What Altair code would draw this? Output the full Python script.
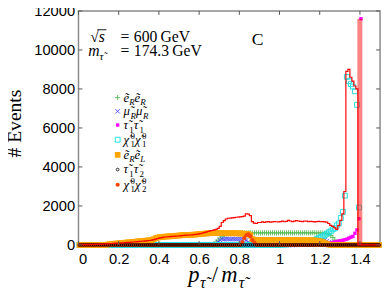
import altair as alt
import pandas as pd

W, H = 308, 239
SERIF = "Liberation Serif"
SANS = "Liberation Sans"

# ---------------- data (bins of width 0.01 in p/m) ----------------
edges = [round(0.01 * i, 2) for i in range(151)]
centers = [round(0.005 + 0.01 * i, 3) for i in range(150)]

total = [
    10, 10, 15, 15, 20, 20, 25, 25, 30, 35,
    40, 45, 50, 55, 60, 70, 75, 80, 90, 95,
    100, 110, 115, 120, 130, 135, 145, 150, 160, 170,
    180, 190, 200, 210, 220, 230, 250, 270, 300, 330,
    360, 380, 400, 410, 420, 430, 440, 440, 450, 460,
    470, 480, 490, 500, 500, 510, 520, 530, 540, 560,
    580, 600, 630, 660, 690, 720, 740, 770, 800, 850,
    950, 1150, 1250, 1330, 1370, 1380, 1390, 1400, 1420, 1430,
    1440, 1450, 1480, 1600, 1580, 1500, 1200, 1120, 1100, 1150,
    1150, 1180, 1160, 1180, 1200, 1170, 1180, 1200, 1190, 1180,
    1200, 1220, 1190, 1210, 1260, 1230, 1200, 1220, 1250, 1230,
    1210, 1200, 1230, 1220, 1190, 1210, 1200, 1180, 1200, 1210,
    1190, 1200, 1180, 1170, 1100, 1000, 950, 880, 800, 1000,
    1260, 1590, 2740, 8900, 9000, 8600, 8400, 8150, 8000, 0,
    0, 0, 0, 0, 0, 0, 0, 0, 0, 0,
]

eReR = [
    0, 0, 0, 0, 0, 0, 0, 0, 0, 0,
    0, 0, 0, 0, 0, 0, 0, 0, 0, 0,
    0, 0, 0, 0, 0, 0, 0, 0, 0, 0,
    0, 0, 0, 0, 0, 0, 0, 0, 0, 0,
    0, 0, 0, 0, 0, 0, 0, 0, 0, 0,
    0, 0, 0, 0, 0, 0, 0, 0, 0, 0,
    0, 0, 0, 0, 0, 0, 0, 50, 150, 250,
    350, 450, 520, 560, 600, 610, 620, 620, 610, 620,
    620, 630, 610, 620, 620, 630, 610, 620, 630, 620,
    610, 620, 630, 620, 610, 620, 630, 620, 610, 620,
    630, 620, 610, 620, 630, 620, 610, 620, 630, 620,
    610, 620, 630, 620, 610, 620, 630, 620, 610, 620,
    620, 610, 600, 600, 560, 480, 380, 250, 120, 40,
    0, 0, 0, 0, 0, 0, 0, 0, 0, 0,
    0, 0, 0, 0, 0, 0, 0, 0, 0, 0,
]

muRmuR = [
    0, 0, 0, 0, 0, 0, 0, 0, 0, 0,
    0, 0, 0, 0, 0, 0, 0, 0, 0, 0,
    0, 0, 0, 0, 0, 0, 0, 0, 0, 0,
    0, 0, 0, 0, 0, 0, 0, 0, 0, 0,
    0, 0, 0, 0, 0, 0, 0, 0, 0, 0,
    0, 0, 0, 0, 0, 0, 0, 0, 0, 0,
    0, 0, 0, 0, 0, 0, 0, 0, 50, 150,
    250, 300, 300, 310, 300, 300, 310, 300, 300, 300,
    300, 300, 290, 250, 150, 50, 0, 0, 0, 0,
    0, 0, 0, 0, 0, 0, 0, 0, 0, 0,
    0, 0, 0, 0, 0, 0, 0, 0, 0, 20,
    50, 80, 100, 130, 150, 180, 200, 220, 230, 250,
    250, 250, 240, 200, 150, 100, 50, 20, 0, 0,
    0, 0, 0, 0, 0, 0, 0, 0, 0, 0,
    0, 0, 0, 0, 0, 0, 0, 0, 0, 0,
]

tau1tau1 = [
    0, 0, 0, 0, 0, 0, 0, 0, 0, 0,
    0, 0, 0, 0, 0, 0, 0, 0, 0, 0,
    0, 0, 0, 0, 0, 0, 0, 0, 0, 0,
    0, 0, 0, 0, 0, 0, 0, 0, 0, 0,
    0, 0, 0, 0, 0, 0, 0, 0, 0, 0,
    0, 0, 0, 0, 0, 0, 0, 0, 0, 0,
    0, 0, 0, 0, 0, 0, 0, 0, 0, 0,
    0, 0, 0, 0, 0, 0, 0, 0, 0, 0,
    0, 0, 0, 0, 0, 0, 0, 0, 0, 0,
    0, 0, 0, 0, 0, 0, 0, 0, 0, 0,
    0, 0, 0, 0, 0, 0, 0, 0, 0, 0,
    0, 0, 0, 0, 0, 10, 15, 20, 25, 30,
    40, 50, 60, 80, 90, 110, 130, 160, 180, 200,
    220, 240, 270, 300, 350, 400, 440, 600, 770, 1345,
    11600, 0, 0, 0, 0, 0, 0, 0, 0, 0,
]

chi1chi1 = [
    0, 0, 0, 0, 0, 0, 0, 0, 0, 0,
    0, 0, 0, 0, 0, 0, 0, 0, 0, 0,
    0, 0, 0, 0, 0, 0, 0, 0, 0, 0,
    0, 0, 0, 0, 0, 0, 0, 0, 0, 0,
    0, 0, 0, 0, 0, 0, 0, 0, 0, 0,
    0, 0, 0, 0, 0, 0, 0, 0, 0, 0,
    0, 0, 0, 0, 0, 0, 0, 0, 0, 0,
    0, 0, 0, 0, 0, 0, 0, 0, 0, 0,
    0, 0, 0, 0, 0, 0, 0, 0, 0, 0,
    0, 0, 0, 0, 0, 0, 0, 0, 0, 0,
    20, 20, 30, 30, 40, 50, 50, 60, 70, 80,
    90, 100, 120, 140, 160, 190, 220, 260, 300, 350,
    400, 440, 500, 580, 650, 700, 800, 850, 1000, 1100,
    1380, 1700, 2530, 8620, 8400, 8250, 8120, 7880, 7190, 1920,
    0, 0, 0, 0, 0, 0, 0, 0, 0, 0,
]

eReL = [
    0, 0, 0, 0, 0, 0, 0, 0, 0, 0,
    0, 0, 0, 10, 20, 40, 50, 60, 70, 80,
    90, 100, 110, 120, 130, 140, 150, 160, 170, 180,
    190, 200, 210, 220, 230, 240, 260, 300, 350, 380,
    400, 410, 420, 430, 440, 440, 450, 460, 470, 480,
    490, 500, 500, 510, 510, 520, 520, 530, 540, 550,
    560, 570, 580, 590, 600, 600, 610, 610, 620, 620,
    620, 610, 610, 600, 600, 600, 600, 600, 600, 590,
    590, 580, 580, 570, 560, 500, 300, 270, 260, 260,
    250, 260, 250, 250, 260, 250, 250, 260, 250, 250,
    250, 250, 260, 250, 250, 250, 240, 250, 250, 240,
    250, 240, 240, 250, 240, 240, 230, 230, 220, 200,
    180, 150, 100, 50, 20, 0, 0, 0, 0, 0,
    0, 0, 0, 0, 0, 0, 0, 0, 0, 0,
    0, 0, 0, 0, 0, 0, 0, 0, 0, 0,
]

tau1tau2 = [
    0, 0, 0, 0, 0, 0, 0, 0, 0, 0,
    0, 0, 0, 0, 0, 0, 0, 0, 0, 0,
    0, 0, 0, 0, 0, 0, 0, 0, 0, 0,
    0, 0, 0, 0, 0, 0, 0, 0, 0, 0,
    0, 0, 0, 0, 0, 0, 0, 0, 0, 0,
    0, 0, 0, 0, 0, 0, 0, 0, 0, 0,
    0, 0, 0, 0, 0, 0, 0, 0, 0, 0,
    0, 0, 0, 0, 0, 0, 0, 0, 0, 0,
    0, 0, 0, 0, 0, 0, 0, 0, 0, 0,
    0, 0, 0, 0, 0, 0, 0, 0, 0, 0,
    0, 0, 0, 0, 0, 0, 0, 0, 0, 0,
    0, 0, 0, 0, 0, 0, 0, 0, 0, 0,
    0, 0, 0, 0, 0, 0, 0, 0, 0, 0,
    0, 0, 0, 0, 0, 0, 0, 0, 0, 0,
    0, 0, 0, 0, 0, 0, 0, 0, 0, 0,
]

chi1chi2 = [
    0, 0, 0, 0, 0, 0, 0, 0, 0, 0,
    0, 0, 0, 0, 0, 0, 0, 0, 0, 0,
    0, 0, 0, 0, 0, 0, 0, 0, 0, 0,
    0, 0, 0, 0, 0, 0, 0, 0, 0, 0,
    0, 0, 0, 0, 0, 0, 0, 0, 0, 0,
    0, 0, 0, 0, 0, 0, 0, 0, 0, 0,
    0, 0, 0, 0, 0, 0, 0, 0, 0, 0,
    0, 0, 0, 0, 0, 0, 0, 0, 0, 0,
    0, 150, 350, 500, 550, 450, 250, 120, 0, 0,
    0, 0, 0, 0, 0, 0, 0, 0, 0, 0,
    0, 0, 0, 0, 0, 0, 0, 0, 0, 0,
    0, 0, 0, 0, 0, 0, 0, 0, 0, 0,
    0, 0, 0, 0, 0, 0, 0, 0, 0, 0,
    0, 0, 0, 0, 0, 0, 0, 0, 0, 0,
    0, 0, 0, 0, 0, 0, 0, 0, 0, 0,
]

# spike of the last bin (light red bar)
spike_x0 = [1.387]
spike_x1 = [1.412]
spike_top = [11600]

x_ticks = [0, 0.2, 0.4, 0.6, 0.8, 1.0, 1.2, 1.4]
y_ticks = [0, 2000, 4000, 6000, 8000, 10000, 12000]

# ---------------- scales / axes ----------------
xs = alt.Scale(domain=[0, 1.5], nice=False, zero=False)
ys = alt.Scale(domain=[0, 12000], nice=False)
XA = alt.Axis(values=x_ticks, format="~g", title=None, labelPadding=7,
              labelFontSize=15, labelOverlap=False)
YA = alt.Axis(values=y_ticks, format="d", title=None, labelPadding=4,
              labelFontSize=15, labelOverlap=False)

PLUS = "M-1,0L1,0M0,-1L0,1"
CROSS = "M-1,-1L1,1M-1,1L1,-1"

styles = [
    # name, values, shape, filled, color, size, strokeWidth
    ("eReR", eReR, PLUS, False, "#55bb55", 28, 0.9),
    ("muRmuR", muRmuR, CROSS, False, "#4444ff", 20, 0.9),
    ("tau1tau1", tau1tau1, "square", True, "#ff00ff", 12, 0),
    ("chi1chi1", chi1chi1, "square", False, "#22dddd", 25, 1),
    ("eReL", eReL, "square", True, "#ffa500", 34, 0),
    ("tau1tau2", tau1tau2, "circle", False, "#000000", 8, 0.8),
    ("chi1chi2", chi1chi2, "circle", True, "#ff4500", 18, 0),
]
draw_order = [0, 1, 2, 3, 4, 6, 5]


def mark_kw(shape, filled, color, size, sw):
    mk = dict(shape=shape, filled=filled, size=size, opacity=1)
    if filled:
        mk["color"] = color
        mk["strokeWidth"] = 0
    else:
        mk["stroke"] = color
        mk["strokeWidth"] = sw
        mk["fill"] = "transparent"
    return mk


layers = []
for k in draw_order:
    name, vals, shape, filled, color, size, sw = styles[k]
    df = pd.DataFrame({"x": centers, "y": vals})
    layers.append(
        alt.Chart(df).mark_point(**mark_kw(shape, filled, color, size, sw)).encode(
            x=alt.X("x:Q", scale=xs, axis=XA),
            y=alt.Y("y:Q", scale=ys, axis=YA),
        )
    )

tot_df = pd.DataFrame({"x": edges, "y": total + [total[-1]]})
layers.append(
    alt.Chart(tot_df).mark_line(interpolate="step-after", color="#ff0000", strokeWidth=1.2).encode(
        x=alt.X("x:Q", scale=xs, axis=XA), y=alt.Y("y:Q", scale=ys, axis=YA)
    )
)

spike_df = pd.DataFrame({"x0": spike_x0, "x1": spike_x1, "top": spike_top, "b": [0]})
layers.append(
    alt.Chart(spike_df).mark_rect(color="#ff0000", opacity=0.48).encode(
        x=alt.X("x0:Q", scale=xs, axis=XA), x2="x1:Q",
        y=alt.Y("b:Q", scale=ys, axis=YA), y2="top:Q"
    )
)

# inner ticks
tk = "#555555"
xt = pd.DataFrame({"t": x_ticks})
yt = pd.DataFrame({"t": y_ticks})
layers.append(alt.Chart(xt).mark_rule(color=tk).encode(
    x=alt.X("t:Q", scale=xs, axis=XA), y=alt.value(H), y2=alt.value(H - 4)))
layers.append(alt.Chart(xt).mark_rule(color=tk).encode(
    x=alt.X("t:Q", scale=xs, axis=XA), y=alt.value(0), y2=alt.value(4)))
layers.append(alt.Chart(yt).mark_rule(color=tk).encode(
    y=alt.Y("t:Q", scale=ys, axis=YA), x=alt.value(0), x2=alt.value(4)))
layers.append(alt.Chart(yt).mark_rule(color=tk).encode(
    y=alt.Y("t:Q", scale=ys, axis=YA), x=alt.value(W), x2=alt.value(W - 4)))

# ---------------- text helpers ----------------
ONE = pd.DataFrame({"k": [0]})
ROMAN = {"0": .5, "1": .5, "2": .5, "3": .5, "4": .5, "5": .5, "6": .5, "7": .5, "8": .5, "9": .5,
         ".": .25, " ": .25, "=": .564, "G": .722, "e": .444, "V": .722, "C": .667, "#": .5,
         "/": .278, "\u221a": .55}
ITAL = {"e": .444, "\u1ebd": .444, "s": .389, "m": .722, "p": .5, "R": .611, "L": .556,
        "\u03bc": .55, "\u03c4": .45, "\u03c7": .55}


def tw(s, italic, size):
    tbl = ITAL if italic else ROMAN
    return sum(tbl.get(c, .5) for c in s if c != "\u0303") * size


def txt(x, y, t, size, italic=False, angle=0, align="left", baseline="alphabetic"):
    kw = dict(text=t, font=SERIF, fontSize=size, align=align, baseline=baseline, color="black")
    if italic:
        kw["fontStyle"] = "italic"
    if angle:
        kw["angle"] = angle
    return alt.Chart(ONE).mark_text(**kw).encode(x=alt.value(x), y=alt.value(y))


def math(x, y, parts, size):
    out = []
    cx = x
    s2 = size * 0.7
    for p in parts:
        kind = p[0]
        if kind == "n":
            out.append(txt(cx, y, p[1], size, p[2]))
            cx += tw(p[1], p[2], size)
        elif kind == "sub":
            out.append(txt(cx, y + size * 0.28, p[1], s2, p[2]))
            cx += tw(p[1], p[2], s2)
        elif kind == "subsup":
            out.append(txt(cx, y + size * 0.28, p[1], s2, False))
            out.append(txt(cx, y - size * 0.40, p[2], s2, False))
            cx += max(tw(p[1], False, s2), tw(p[2], False, s2))
        elif kind == "sp":
            cx += p[1] * size
        elif kind == "at":
            cx = p[1]
    return out


E = "\u1ebd"
MU = "\u03bc\u0303"
TAU = "\u03c4\u0303"
CHI = "\u03c7\u0303"

legend_rows = [
    [("n", E, True), ("sub", "R", True), ("n", E, True), ("sub", "R", True)],
    [("n", MU, True), ("sub", "R", True), ("n", MU, True), ("sub", "R", True)],
    [("n", TAU, True), ("sub", "1", False), ("n", TAU, True), ("sub", "1", False)],
    [("n", CHI, True), ("subsup", "1", "0"), ("n", CHI, True), ("subsup", "1", "0")],
    [("n", E, True), ("sub", "R", True), ("n", E, True), ("sub", "L", True)],
    [("n", TAU, True), ("sub", "1", False), ("n", TAU, True), ("sub", "2", False)],
    [("n", CHI, True), ("subsup", "1", "0"), ("n", CHI, True), ("subsup", "2", "0")],
]
legend_y = [88.5, 102.5, 116.5, 131.5, 147, 162, 177.5]

for (name, vals, shape, filled, color, size, sw), parts, ly in zip(styles, legend_rows, legend_y):
    layers.append(alt.Chart(ONE).mark_point(**mark_kw(shape, filled, color, size, sw)).encode(
        x=alt.value(40), y=alt.value(ly)))
    layers += math(46, ly + 4, parts, 13)

# annotations: two aligned lines ("=" signs aligned)
FS = 16
EQ_X = 43
layers += math(12, 32, [("n", "\u221a", False), ("n", "s", True), ("at", EQ_X),
                        ("n", "=", False), ("sp", 0.28), ("n", "600", False), ("sp", 0.2),
                        ("n", "GeV", False)], FS)
sx0 = 12 + tw("\u221a", False, FS)
layers.append(alt.Chart(ONE).mark_rule(color="black", strokeWidth=0.9).encode(
    x=alt.value(sx0 - 1.5), x2=alt.value(sx0 + tw("s", True, FS) + 1.5), y=alt.value(32 - FS * 0.8)))
layers += math(10, 45.5, [("n", "m", True), ("sub", TAU, True), ("at", EQ_X),
                          ("n", "=", False), ("sp", 0.28), ("n", "174.3", False), ("sp", 0.2),
                          ("n", "GeV", False)], FS)
layers.append(txt(177, 35, "C", 18))

# axis titles
layers.append(txt(-65, 115, "# Events", 20, angle=270, align="center", baseline="middle"))
layers += math(112, 277, [("n", "p", True), ("sp", 0.03), ("sub", TAU, True), ("sp", 0.2),
                          ("n", "/", False), ("sp", 0.15), ("n", "m", True), ("sp", 0.05),
                          ("sub", TAU, True)], 23)

chart = alt.layer(*layers).properties(
    width=W, height=H,
    autosize=alt.AutoSizeParams(type="none"),
    padding={"left": 72, "top": 0, "right": 2, "bottom": 44},
).configure_view(
    stroke="#8a8a8a", strokeWidth=1.5
).configure_axis(
    domain=False, ticks=False, tickSize=0, grid=False,
    labelFont=SANS, labelColor="black",
)

chart.save("out.html", embed_options={"renderer": "svg", "actions": False})
